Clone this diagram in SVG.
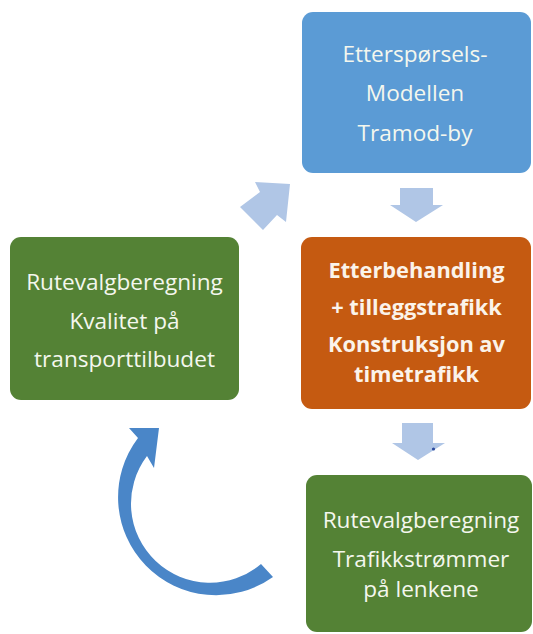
<svg xmlns="http://www.w3.org/2000/svg" width="533" height="634" viewBox="0 0 533 634">
<style>
.t{font-family:"Open Sans","Liberation Sans",sans-serif;font-size:22.6px;fill:#f4f7ee;text-anchor:middle}
.b{font-weight:bold;font-size:21.8px;fill:#fbf3ea}
.la{fill:#b0c6e6}
</style>
<rect width="533" height="634" fill="#ffffff"/>
<g id="node-demand">
<rect x="302" y="12" width="229" height="161" rx="11" fill="#5b9bd5"/>
<text class="t" x="415" y="62">Etterspørsels-</text>
<text class="t" x="415" y="101">Modellen</text>
<text class="t" x="415" y="141">Tramod-by</text>
</g>
<g id="node-post">
<rect x="301" y="237" width="230" height="172" rx="11" fill="#c55a11"/>
<text class="t b" x="416.5" y="278">Etterbehandling</text>
<text class="t b" x="416.5" y="315">+ tilleggstrafikk</text>
<text class="t b" x="416.5" y="352">Konstruksjon av</text>
<text class="t b" x="416.5" y="382">timetrafikk</text>
</g>
<g id="node-flows">
<rect x="306" y="475" width="226" height="157" rx="11" fill="#548235"/>
<text class="t" x="421" y="528">Rutevalgberegning</text>
<text class="t" x="421" y="567">Trafikkstrømmer</text>
<text class="t" x="421" y="597">på lenkene</text>
</g>
<g id="node-quality">
<rect x="10" y="237" width="229" height="163" rx="11" fill="#548235"/>
<text class="t" x="124.5" y="290">Rutevalgberegning</text>
<text class="t" x="124.5" y="329">Kvalitet på</text>
<text class="t" x="124.5" y="367">transporttilbudet</text>
</g>
<g id="connectors">
<polygon class="la" points="400,188 433,188 433,205 443,205 416,222 390,205 400,205"/>
<polygon class="la" points="402,423 433,423 433,443 445,443 418,460 392,443 402,443"/>
<circle cx="433.5" cy="449" r="1.6" fill="#2b4a9e"/>
<polygon class="la" points="290,184 286,222 277,215 263,230 240,207 260,192 255,182"/>
<path d="M273,577 A98,98 0 0 1 138,438 L129,428 L159,428 L154,468 L147,456 A79,79 0 0 0 261,564 Z" fill="#4a86c8"/>
</g>
</svg>
